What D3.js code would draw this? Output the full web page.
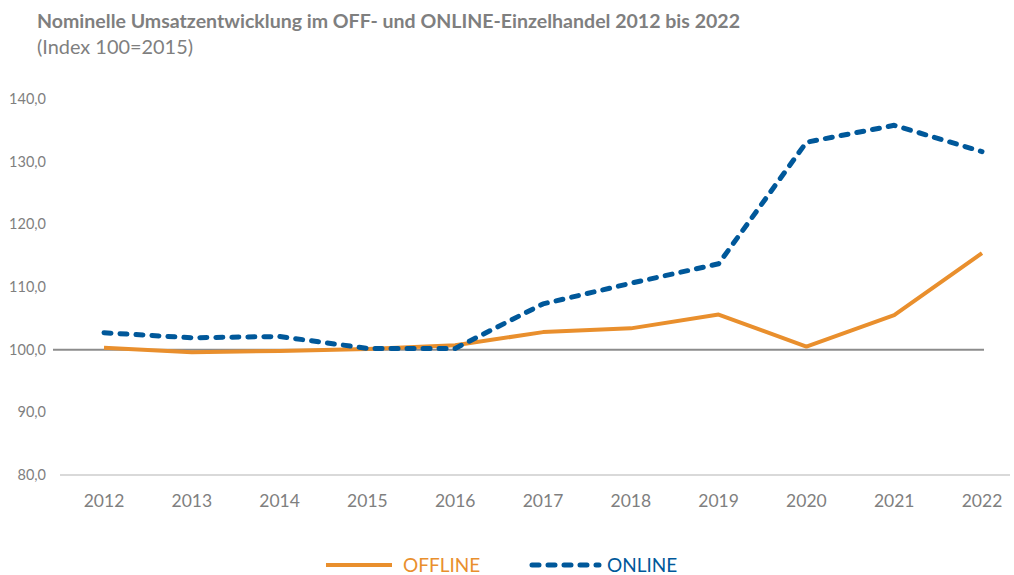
<!DOCTYPE html>
<html>
<head>
<meta charset="utf-8">
<script src="https://cdn.jsdelivr.net/npm/d3@7"></script>
<style>
    body { margin: 0; background: #fff; }
    svg { display: block; font-family: Lato, "Open Sans", sans-serif; }
</style>
</head>
<body>
<svg id="chart" width="1014" height="575"></svg>
<script>
const years = ['2012', '2013', '2014', '2015', '2016', '2017', '2018', '2019', '2020', '2021', '2022'];
const offline = [100.3, 99.6, 99.8, 100.1, 100.7, 102.8, 103.4, 105.6, 100.5, 105.5, 115.4];
const online = [102.7, 101.9, 102.1, 100.2, 100.2, 107.3, 110.6, 113.7, 133.1, 135.8, 131.6];
const yTicks = [80, 90, 100, 110, 120, 130, 140];

const svg = d3.select('#chart');
const grey = '#7f7f7f';
const orange = '#e98f2d';
const blue = '#00589a';

let x = d3.scalePoint().domain(years).range([104, 982]);
let y = d3.scaleLinear().domain([80, 140]).range([475, 99]);
let fmt = v => d3.format('.1f')(v).replace('.', ',');

// title
svg.append('text')
    .attr('x', 37).attr('y', 28)
    .attr('fill', grey).attr('font-size', 18.5).attr('font-weight', 'bold')
    .attr('textLength', 703).attr('lengthAdjust', 'spacingAndGlyphs')
    .text('Nominelle Umsatzentwicklung im OFF- und ONLINE-Einzelhandel 2012 bis 2022');
svg.append('text')
    .attr('x', 37).attr('y', 54)
    .attr('fill', grey).attr('font-size', 18.5)
    .attr('textLength', 156).attr('lengthAdjust', 'spacingAndGlyphs')
    .text('(Index 100=2015)');

// y labels
svg.append('g').selectAll('text')
    .data(yTicks)
    .enter().append('text')
        .attr('x', 46)
        .attr('y', d => y(d) + 5)
        .attr('text-anchor', 'end')
        .attr('fill', grey).attr('font-size', 14.5)
        .text(fmt);

// baseline at 80 and reference line at 100
svg.append('line')
    .attr('x1', 60).attr('x2', 1010)
    .attr('y1', y(80)).attr('y2', y(80))
    .attr('stroke', '#d9d9d9').attr('stroke-width', 2);
svg.append('line')
    .attr('x1', 53).attr('x2', 984)
    .attr('y1', y(100)).attr('y2', y(100))
    .attr('stroke', '#8c8c8c').attr('stroke-width', 2);

// x labels
svg.append('g').selectAll('text')
    .data(years)
    .enter().append('text')
        .attr('x', d => x(d))
        .attr('y', 507)
        .attr('text-anchor', 'middle')
        .attr('fill', grey).attr('font-size', 17.5)
        .text(d => d);

let line = d3.line()
    .x((d, i) => x(years[i]))
    .y(d => y(d));

svg.append('path')
    .datum(offline)
    .attr('d', line)
    .attr('fill', 'none')
    .attr('stroke', orange).attr('stroke-width', 4)
    .attr('stroke-linejoin', 'round');

svg.append('path')
    .datum(online)
    .attr('d', line)
    .attr('fill', 'none')
    .attr('stroke', blue).attr('stroke-width', 5)
    .attr('stroke-dasharray', '7,9')
    .attr('stroke-linecap', 'round')
    .attr('stroke-linejoin', 'round');

// legend
let legend = svg.append('g');
legend.append('line')
    .attr('x1', 326).attr('x2', 392).attr('y1', 565).attr('y2', 565)
    .attr('stroke', orange).attr('stroke-width', 4);
legend.append('text')
    .attr('x', 403).attr('y', 572)
    .attr('fill', orange).attr('font-size', 19)
    .text('OFFLINE');
legend.append('line')
    .attr('x1', 532).attr('x2', 599).attr('y1', 565).attr('y2', 565)
    .attr('stroke', blue).attr('stroke-width', 5)
    .attr('stroke-dasharray', '7,9')
    .attr('stroke-linecap', 'round');
legend.append('text')
    .attr('x', 607).attr('y', 572)
    .attr('fill', blue).attr('font-size', 19)
    .text('ONLINE');
</script>
</body>
</html>
